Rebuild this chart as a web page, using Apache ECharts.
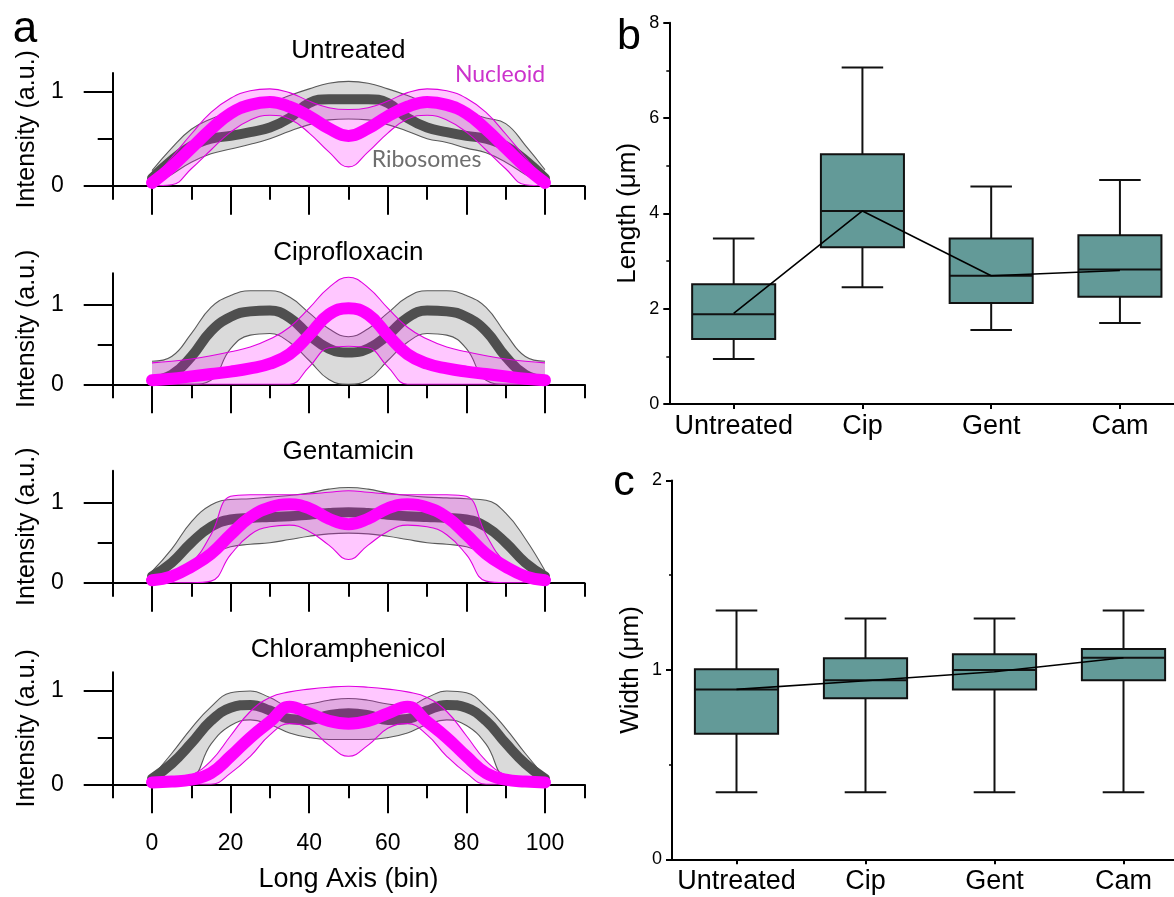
<!DOCTYPE html>
<html><head><meta charset="utf-8">
<script src="https://cdn.jsdelivr.net/npm/echarts@6/dist/echarts.min.js"></script>
<style>html,body{margin:0;padding:0;background:#fff}#c{width:1174px;height:897px}</style>
</head><body><div id="c"></div>
<script>
// ---------- Panel a data (bins along the long axis) ----------
const axisBins = [-10,-5,0,5,10,15,20,25,30,35,40,45,50,55,60,65,70,75,80,85,90,95,100,105,110];
const bins = [0,5,10,15,20,25,30,35,40,45,50,55,60,65,70,75,80,85,90,95,100];
const xMajorTicks = [0,20,40,60,80,100];
const xMinorTicks = [-10,10,30,50,70,90,110];
const yMajorTicks = [0,1];
const yMinorTicks = [0.5];

const untreatedRiboMean  = [0.08,0.27,0.42,0.50,0.53,0.57,0.62,0.72,0.88,0.92,0.92,0.92,0.88,0.72,0.62,0.57,0.53,0.50,0.42,0.27,0.08];
const untreatedRiboUpper = [0.16,0.40,0.60,0.71,0.78,0.83,0.88,0.96,1.03,1.09,1.11,1.09,1.03,0.96,0.88,0.83,0.78,0.72,0.66,0.43,0.17];
const untreatedRiboLower = [0.00,0.12,0.25,0.34,0.39,0.44,0.50,0.58,0.65,0.70,0.71,0.70,0.65,0.58,0.50,0.46,0.40,0.35,0.25,0.12,0.00];
const untreatedNucMean   = [0.03,0.20,0.40,0.60,0.77,0.86,0.89,0.84,0.74,0.61,0.53,0.61,0.74,0.84,0.89,0.86,0.77,0.60,0.40,0.20,0.03];
const untreatedNucUpper  = [0.06,0.30,0.55,0.78,0.93,1.01,1.03,0.99,0.90,0.83,0.81,0.83,0.90,0.99,1.03,1.01,0.93,0.78,0.55,0.30,0.06];
const untreatedNucLower  = [0.00,0.01,0.18,0.38,0.57,0.70,0.75,0.71,0.56,0.36,0.20,0.36,0.56,0.71,0.75,0.70,0.57,0.38,0.18,0.01,0.00];

const cipRiboMean  = [0.05,0.12,0.35,0.67,0.85,0.92,0.93,0.84,0.62,0.45,0.40,0.45,0.62,0.84,0.93,0.92,0.85,0.67,0.35,0.12,0.05];
const cipRiboUpper = [0.29,0.35,0.64,0.97,1.12,1.18,1.18,1.10,0.90,0.70,0.60,0.70,0.90,1.10,1.18,1.18,1.12,0.97,0.64,0.35,0.29];
const cipRiboLower = [0.00,0.00,0.00,0.05,0.45,0.62,0.64,0.53,0.30,0.06,0.00,0.06,0.30,0.53,0.64,0.62,0.45,0.05,0.00,0.00,0.00];
const cipNucMean   = [0.05,0.07,0.10,0.13,0.16,0.20,0.26,0.38,0.62,0.88,0.96,0.88,0.62,0.38,0.26,0.20,0.16,0.13,0.10,0.07,0.05];
const cipNucUpper  = [0.27,0.29,0.32,0.36,0.41,0.47,0.57,0.72,0.96,1.22,1.35,1.22,0.96,0.72,0.57,0.47,0.41,0.36,0.32,0.29,0.27];
const cipNucLower  = [0.00,0.00,0.00,0.00,0.00,0.00,0.00,0.00,0.22,0.46,0.48,0.46,0.22,0.00,0.00,0.00,0.00,0.00,0.00,0.00,0.00];

const gentRiboMean  = [0.08,0.25,0.50,0.70,0.79,0.81,0.82,0.83,0.85,0.87,0.88,0.87,0.85,0.83,0.82,0.81,0.79,0.70,0.50,0.25,0.08];
const gentRiboUpper = [0.14,0.42,0.76,0.97,1.04,1.05,1.07,1.09,1.12,1.17,1.19,1.17,1.12,1.09,1.07,1.06,1.05,1.03,0.87,0.55,0.15];
const gentRiboLower = [0.00,0.06,0.22,0.36,0.45,0.48,0.50,0.54,0.58,0.61,0.62,0.61,0.58,0.54,0.50,0.48,0.45,0.36,0.22,0.06,0.00];
const gentNucMean   = [0.03,0.08,0.20,0.36,0.60,0.82,0.94,0.98,0.93,0.80,0.73,0.80,0.93,0.98,0.94,0.82,0.60,0.36,0.20,0.08,0.03];
const gentNucUpper  = [0.08,0.14,0.25,0.60,1.08,1.10,1.10,1.10,1.11,1.13,1.15,1.13,1.11,1.10,1.10,1.10,1.08,0.60,0.25,0.14,0.08];
const gentNucLower  = [0.00,0.00,0.00,0.02,0.35,0.60,0.70,0.72,0.64,0.47,0.29,0.47,0.64,0.72,0.70,0.60,0.35,0.02,0.00,0.00,0.00];

const chlRiboMean  = [0.06,0.22,0.44,0.68,0.82,0.85,0.79,0.70,0.69,0.74,0.76,0.74,0.69,0.70,0.79,0.85,0.82,0.68,0.44,0.22,0.06];
const chlRiboUpper = [0.08,0.33,0.60,0.83,0.98,1.00,0.93,0.84,0.86,0.90,0.92,0.90,0.86,0.84,0.93,1.00,0.98,0.83,0.60,0.33,0.08];
const chlRiboLower = [0.00,0.02,0.06,0.43,0.63,0.69,0.64,0.55,0.50,0.48,0.48,0.48,0.50,0.55,0.64,0.69,0.63,0.43,0.06,0.02,0.00];
const chlNucMean   = [0.02,0.03,0.05,0.12,0.30,0.50,0.67,0.83,0.76,0.68,0.65,0.68,0.76,0.83,0.67,0.50,0.30,0.12,0.05,0.03,0.02];
const chlNucUpper  = [0.03,0.05,0.10,0.25,0.52,0.78,0.93,0.99,1.02,1.04,1.05,1.04,1.02,0.99,0.93,0.78,0.52,0.25,0.10,0.05,0.03];
const chlNucLower  = [0.00,0.00,0.00,0.00,0.12,0.30,0.53,0.65,0.60,0.42,0.30,0.42,0.60,0.65,0.53,0.30,0.12,0.00,0.00,0.00,0.00];

// ---------- Panels b & c data ----------
const categories = ['Untreated','Cip','Gent','Cam'];
const lengthMin    = [0.94, 2.45, 1.55, 1.70];
const lengthQ1     = [1.36, 3.29, 2.12, 2.25];
const lengthMedian = [1.88, 4.05, 2.69, 2.82];
const lengthQ3     = [2.51, 5.24, 3.47, 3.54];
const lengthMax    = [3.47, 7.06, 4.56, 4.70];
const lengthMean   = [1.90, 4.05, 2.69, 2.80];

const widthMin    = [0.354, 0.354, 0.354, 0.354];
const widthQ1     = [0.663, 0.850, 0.897, 0.946];
const widthMedian = [0.897, 0.946, 0.999, 1.064];
const widthQ3     = [1.003, 1.062, 1.083, 1.111];
const widthMax    = [1.314, 1.272, 1.272, 1.314];
const widthMean   = [0.897, 0.943, 0.990, 1.064];

// ---------- layout / styles ----------
const FONT = '"Liberation Sans", Arial, sans-serif';
const BLACK = '#000';
const RIBO_FILL = '#dadada', RIBO_LINE = '#5a5a5a', RIBO_MEAN = '#4f4f4f';
const NUC_FILL = 'rgba(255,0,255,0.22)', NUC_LINE = '#e000e0', NUC_MEAN = '#ff00ff';
const BOX_FILL = '#639a98';

const panelA = [
  {title:'Untreated',       ymax:1.2, top:72.9,  height:112.8, rm:untreatedRiboMean, ru:untreatedRiboUpper, rl:untreatedRiboLower, nm:untreatedNucMean, nu:untreatedNucUpper, nl:untreatedNucLower, ty:50.5},
  {title:'Ciprofloxacin',   ymax:1.4, top:273.3, height:111.0, rm:cipRiboMean, ru:cipRiboUpper, rl:cipRiboLower, nm:cipNucMean, nu:cipNucUpper, nl:cipNucLower, ty:253},
  {title:'Gentamicin',      ymax:1.4, top:470.7, height:112.0, rm:gentRiboMean, ru:gentRiboUpper, rl:gentRiboLower, nm:gentNucMean, nu:gentNucUpper, nl:gentNucLower, ty:451.7},
  {title:'Chloramphenicol', ymax:1.2, top:672.3, height:112.0, rm:chlRiboMean, ru:chlRiboUpper, rl:chlRiboLower, nm:chlNucMean, nu:chlNucUpper, nl:chlNucLower, ty:650}
];

// put a per-bin array on the full axis (bins outside the profile are empty)
const onAxis = (arr) => axisBins.map(b => { const i = bins.indexOf(b); return i >= 0 ? arr[i] : null; });
const onAxisDiff = (hi, lo) => axisBins.map(b => { const i = bins.indexOf(b); return i >= 0 ? +(hi[i] - lo[i]).toFixed(4) : null; });
const isIn = (set) => (idx, val) => set.indexOf(Number(val)) >= 0;

const grids = [], xAxes = [], yAxes = [], series = [], graphics = [];
const tickStyle = {color: BLACK, width: 2};

panelA.forEach((p, k) => {
  grids.push({left:112.7, top:p.top, width:471.6, height:p.height, containLabel:false, outerBoundsMode:'none'});
  const last = k === panelA.length - 1;
  xAxes.push({
    type:'category', gridIndex:k, data:axisBins, boundaryGap:false, position:'bottom',
    axisLine:{show:true, onZero:false, lineStyle:{color:BLACK, width:2}},
    axisTick:{show:true, interval:isIn(xMajorTicks), length:29, lineStyle:tickStyle},
    axisLabel:{show:last, interval:isIn(xMajorTicks), margin:48, fontSize:23, color:BLACK, fontFamily:FONT},
    splitLine:{show:false},
    name: last ? 'Long Axis (bin)' : '', nameLocation:'middle', nameGap:82,
    nameTextStyle:{fontSize:27, color:BLACK, fontFamily:FONT}
  });
  xAxes.push({
    type:'category', gridIndex:k, data:axisBins, boundaryGap:false, position:'bottom',
    axisLine:{show:false, onZero:false},
    axisTick:{show:true, interval:isIn(xMinorTicks), length:14, lineStyle:tickStyle},
    axisLabel:{show:false}, splitLine:{show:false}
  });
  yAxes.push({
    type:'value', gridIndex:k, min:0, max:p.ymax, position:'left',
    axisLine:{show:true, onZero:false, lineStyle:{color:BLACK, width:2}},
    axisTick:{show:true, customValues:yMajorTicks, length:29, lineStyle:tickStyle},
    axisLabel:{show:true, customValues:yMajorTicks, margin:49, fontSize:23, color:BLACK, fontFamily:FONT},
    splitLine:{show:false},
    name:'Intensity (a.u.)', nameLocation:'middle', nameGap:73,
    nameTextStyle:{fontSize:25, color:BLACK, fontFamily:FONT}
  });
  yAxes.push({
    type:'value', gridIndex:k, min:0, max:p.ymax, position:'left',
    axisLine:{show:false, onZero:false},
    axisTick:{show:true, customValues:yMinorTicks, length:15, lineStyle:tickStyle},
    axisLabel:{show:false}, splitLine:{show:false}
  });

  const band = (lower, upper, lineColor, fill, stackId, z) => {
    const common = {type:'line', xAxisIndex:2*k, yAxisIndex:2*k, smooth:0.45, symbol:'none', stack:stackId, z, silent:true,
      lineStyle:{color:lineColor, width:1.1}};
    series.push(Object.assign({}, common, {data: onAxis(lower)}));
    series.push(Object.assign({}, common, {data: onAxisDiff(upper, lower), areaStyle:{color:fill, opacity:1}}));
  };
  const meanLine = (vals, color, width, z) => series.push({
    type:'line', xAxisIndex:2*k, yAxisIndex:2*k, smooth:0.45, symbol:'none', z, silent:true,
    data: onAxis(vals), lineStyle:{color, width, cap:'round', join:'round'}
  });
  band(p.rl, p.ru, RIBO_LINE, RIBO_FILL, 'ribo'+k, 2);
  meanLine(p.rm, RIBO_MEAN, 10, 3);
  band(p.nl, p.nu, NUC_LINE, NUC_FILL, 'nuc'+k, 4);
  meanLine(p.nm, NUC_MEAN, 12, 5);

  graphics.push({type:'text', x:348.3, y:p.ty, style:{text:p.title, font:'26px '+FONT, fill:BLACK, align:'center', verticalAlign:'middle'}});
});

// ---------- panels b & c ----------
function boxRender(params, api) {
  const i = api.value(0);
  const lo = api.coord([i, api.value(1)]);
  const q1 = api.coord([i, api.value(2)]);
  const md = api.coord([i, api.value(3)]);
  const q3 = api.coord([i, api.value(4)]);
  const hi = api.coord([i, api.value(5)]);
  const bw = api.size([1, 0])[0] * 0.645;
  const x = md[0];
  const st = {stroke:'#111', lineWidth:2};
  return {type:'group', children:[
    {type:'line', shape:{x1:x, y1:q3[1], x2:x, y2:hi[1]}, style:st},
    {type:'line', shape:{x1:x-bw/4, y1:hi[1], x2:x+bw/4, y2:hi[1]}, style:st},
    {type:'line', shape:{x1:x, y1:q1[1], x2:x, y2:lo[1]}, style:st},
    {type:'line', shape:{x1:x-bw/4, y1:lo[1], x2:x+bw/4, y2:lo[1]}, style:st},
    {type:'rect', shape:{x:x-bw/2, y:q3[1], width:bw, height:q1[1]-q3[1]}, style:{fill:BOX_FILL, stroke:'#111', lineWidth:2}},
    {type:'line', shape:{x1:x-bw/2, y1:md[1], x2:x+bw/2, y2:md[1]}, style:st}
  ]};
}

const boxPanels = [
  {grid:{left:669.3, top:22.7, width:515, height:381.2}, max:8, interval:2, name:'Length (\u03bcm)',
   mn:lengthMin, q1:lengthQ1, md:lengthMedian, q3:lengthQ3, mx:lengthMax, mean:lengthMean},
  {grid:{left:672, top:480.5, width:516, height:378.8}, max:2, interval:1, name:'Width (\u03bcm)',
   mn:widthMin, q1:widthQ1, md:widthMedian, q3:widthQ3, mx:widthMax, mean:widthMean}
];
boxPanels.forEach((bp, j) => {
  const gi = grids.length;
  grids.push(Object.assign({containLabel:false, outerBoundsMode:'none'}, bp.grid));
  const xi = xAxes.length, yi = yAxes.length;
  xAxes.push({
    type:'category', gridIndex:gi, data:categories, boundaryGap:true, position:'bottom',
    axisLine:{show:true, onZero:false, lineStyle:{color:BLACK, width:2}},
    axisTick:{show:true, alignWithLabel:true, interval:0, length:5, lineStyle:tickStyle},
    axisLabel:{interval:0, hideOverlap:false, margin:9, fontSize:27, color:BLACK, fontFamily:FONT},
    splitLine:{show:false}
  });
  yAxes.push({
    type:'value', gridIndex:gi, min:0, max:bp.max, interval:bp.interval, position:'left',
    axisLine:{show:true, onZero:false, lineStyle:{color:BLACK, width:2}},
    axisTick:{show:true, length:6, lineStyle:tickStyle},
    minorTick:{show:true, splitNumber:2, length:3, lineStyle:{color:BLACK, width:1.5}},
    axisLabel:{margin:10, fontSize:18, color:BLACK, fontFamily:FONT},
    splitLine:{show:false}, minorSplitLine:{show:false},
    name:bp.name, nameLocation:'middle', nameGap:28,
    nameTextStyle:{fontSize:26, color:BLACK, fontFamily:FONT}
  });
  series.push({
    type:'custom', xAxisIndex:xi, yAxisIndex:yi, renderItem:boxRender, silent:true, z:3,
    encode:{x:0, y:[1,2,3,4,5]},
    data: categories.map((c,i)=>[i, bp.mn[i], bp.q1[i], bp.md[i], bp.q3[i], bp.mx[i]])
  });
  series.push({
    type:'line', xAxisIndex:xi, yAxisIndex:yi, data:bp.mean, symbol:'none', silent:true, z:6,
    lineStyle:{color:'#000', width:1.6}
  });
});

graphics.push(
  {type:'text', x:25, y:30, style:{text:'a', font:'44px '+FONT, fill:BLACK, align:'center', verticalAlign:'middle'}},
  {type:'text', x:629, y:37, style:{text:'b', font:'43px '+FONT, fill:BLACK, align:'center', verticalAlign:'middle'}},
  {type:'text', x:624, y:483.5, style:{text:'c', font:'43px '+FONT, fill:BLACK, align:'center', verticalAlign:'middle'}},
  {type:'text', x:500, y:75, z:100, style:{text:'Nucleoid', font:'23px Lato, "Open Sans", sans-serif', fill:'#cc33cc', align:'center', verticalAlign:'middle'}},
  {type:'text', x:426.5, y:160, z:100, style:{text:'Ribosomes', font:'23px Lato, "Open Sans", sans-serif', fill:'#6e6e6e', align:'center', verticalAlign:'middle'}}
);

const chart = echarts.init(document.getElementById('c'), null, {renderer:'canvas', width:1174, height:897});
chart.setOption({
  animation:false,
  backgroundColor:'#fff',
  grid:grids, xAxis:xAxes, yAxis:yAxes, series, graphic:graphics
});
</script>
</body></html>
